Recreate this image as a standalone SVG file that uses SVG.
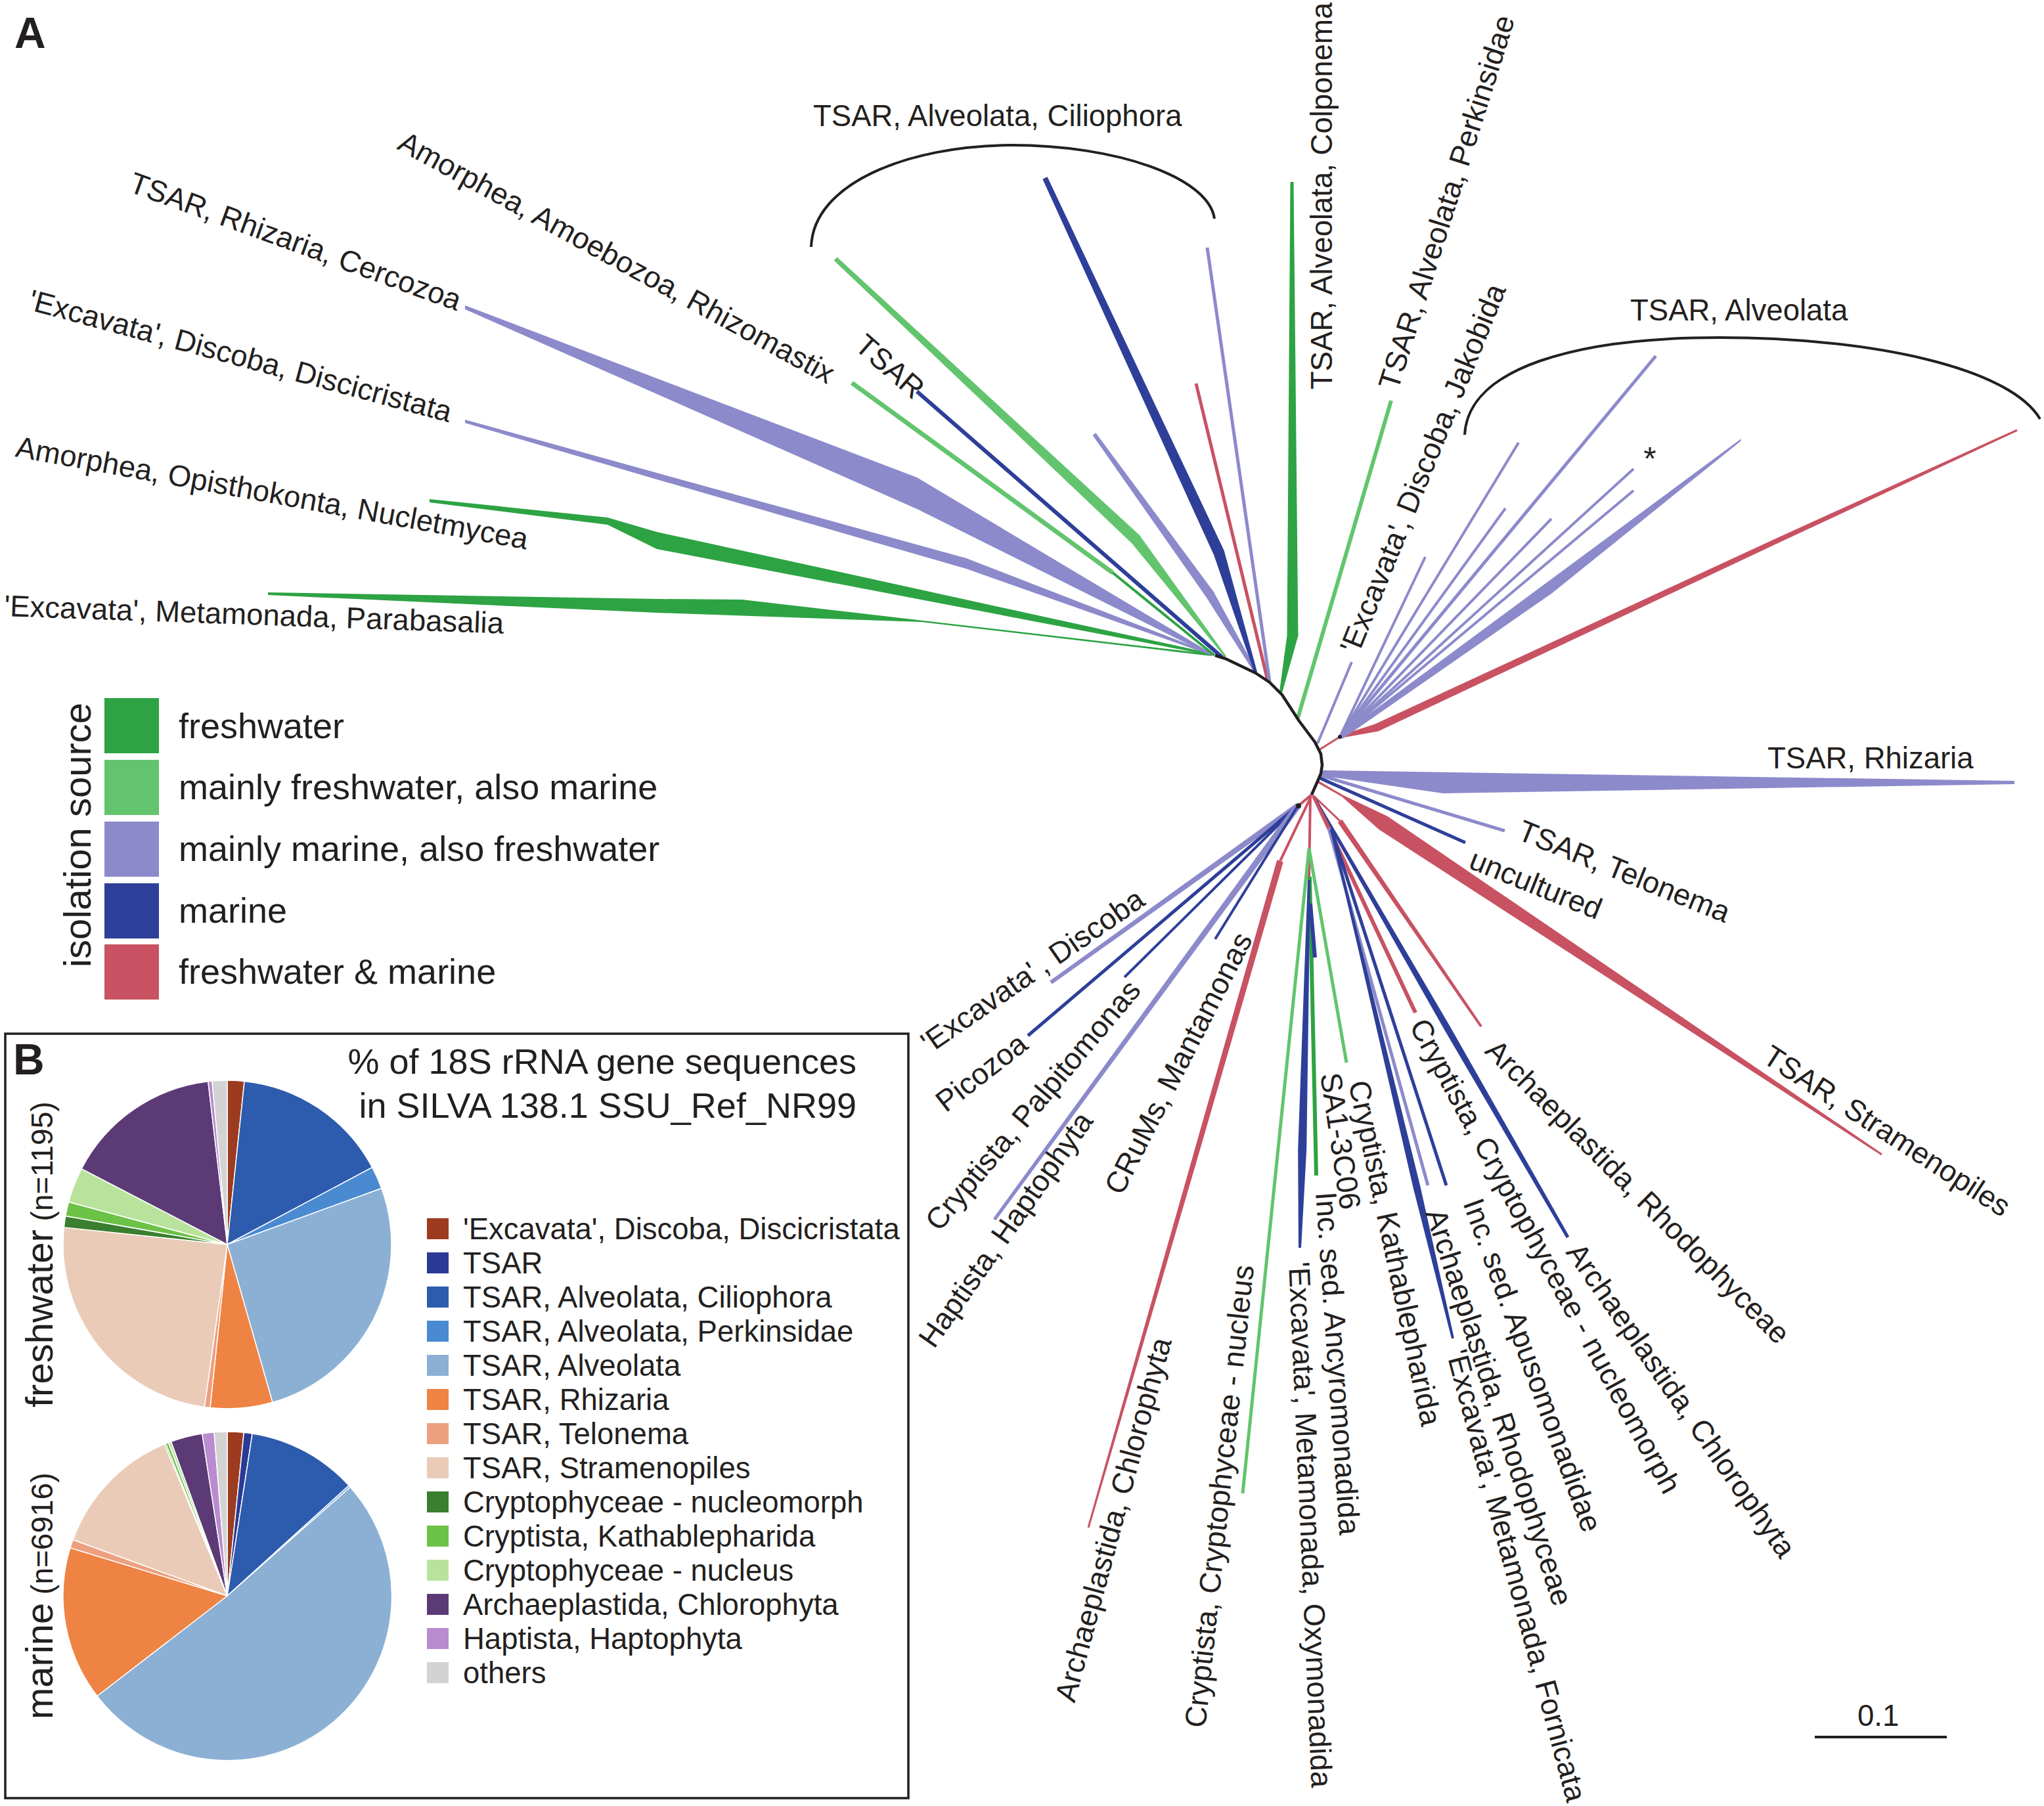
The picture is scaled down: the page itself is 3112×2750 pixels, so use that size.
<svg xmlns="http://www.w3.org/2000/svg" width="3112" height="2750" viewBox="0 0 3112 2750">
<style>
text{font-family:"Liberation Sans",Arial,sans-serif;fill:#231f20}
.t{font-size:45.5px}
.lg{font-size:54px}
.big{font-size:58px}
.sm{font-size:46px}
.hd{font-size:66px;font-weight:bold}
.fw{fill:#2da343}.mf{fill:#63c46e}.mm{fill:#8c8acb}.ma{fill:#2e3f99}.fm{fill:#c85262}
.s{fill:none;stroke-linecap:butt;stroke-linejoin:round}
.sfw{stroke:#2da343}.smf{stroke:#63c46e}.smm{stroke:#8c8acb}.sma{stroke:#2e3f99}.sfm{stroke:#c85262}.sk{stroke:#231f20}
.pie path{stroke:#fff;stroke-width:1.5}
</style>
<rect width="3112" height="2750" fill="#fff"/>

<g id="connectors">
  <!-- upper-left cluster -->
  <polygon class="fw" points="408,902 1000,912 1130,913 1845,996 1845,999 1402,947 1000,933 408,906"/>
  <polygon class="fw" points="654,760 925,788 1000,810 1845,995 1845,998 1000,836 925,799 654,765"/>
  <polygon class="mm" points="708,639 1000,720 1471,850 1845,995 1845,998 1471,866 1000,730 708,644"/>
  <polygon class="mm" points="708,465 1396,727 1845,995 1845,999 1396,775 1000,600 708,471"/>
  <line class="s smf" stroke-width="7" x1="1297" y1="583" x2="1694" y2="872"/>
  <line class="s sfw" stroke-width="4" x1="1694" y1="872" x2="1849" y2="998"/>
  <line class="s sma" stroke-width="6" x1="1396" y1="596" x2="1861" y2="1001"/>
  <polygon class="mf" points="1274.4,391.4 1734.8,814.8 1867,999 1865,1001 1723.2,827.2 1269.6,396.6"/>
  <polygon class="mm" points="1668.4,659.2 1847.7,900.9 1914,1023 1910,1025 1836.3,909.1 1663.6,662.8"/>
  <polygon class="ma" points="1594.6,269.3 1863.7,838.4 1914,1023 1910,1025 1848.3,845.6 1587.4,272.7"/>
  <line class="s sfm" stroke-width="5" x1="1821" y1="584" x2="1930" y2="1036"/>
  <line class="s smm" stroke-width="5" x1="1838" y1="377" x2="1933" y2="1038"/>
  <polygon class="fw" points="1964.5,277 1969.5,277 1976.5,968 1952,1055 1948,1053 1959.5,968"/>
  <line class="s smf" stroke-width="6" x1="2118" y1="610" x2="1976" y2="1093"/>
  <line class="s smm" stroke-width="4" x1="2058" y1="1008" x2="2006" y2="1132"/>
  <!-- alveolata cluster -->
  <line class="s sfm" stroke-width="3" x1="2008" y1="1142" x2="2040" y2="1122"/>
  <polygon class="fm" points="2040,1120 2093.5,1102.6 2698.3,822.4 3070.4,653.6 3071.6,656.4 2701.7,829.6 2098.5,1113.4 2040,1124"/>
  <g class="s smm" stroke-width="4">
    <line x1="2040" y1="1122" x2="2312" y2="674"/>
    <line x1="2040" y1="1122" x2="2521" y2="542" stroke-width="5"/>
    <line x1="2040" y1="1122" x2="2292" y2="774"/>
    <line x1="2040" y1="1122" x2="2170" y2="848"/>
    <line x1="2040" y1="1122" x2="2362" y2="790"/>
    <line x1="2040" y1="1122" x2="2487" y2="714"/>
    <line x1="2040" y1="1122" x2="2487" y2="747"/>
  </g>
  <polygon class="mm" points="2040,1120 2651,668 2650,672 2362,904 2044,1125"/>
  <circle cx="2040" cy="1122" r="3" fill="#231f20"/>
  <!-- right -->
  <polygon class="mm" points="2013,1173 3067,1189 3067,1194 2197,1208 2012,1181"/>
  <line class="s smm" stroke-width="5" x1="2012" y1="1181" x2="2291" y2="1265"/>
  <line class="s sma" stroke-width="5" x1="2010" y1="1185" x2="2231" y2="1283"/>
  <polygon class="fm" points="2006,1188 2044.8,1210.8 2112.6,1243 2669.2,1622.7 2865.8,1756.8 2864.2,1759.2 2664.8,1629.3 2099.4,1263 2043.2,1213.2 2006,1192"/>
  <!-- bottom-right cluster -->
  <line class="s sfm" stroke-width="3" x1="1999" y1="1211" x2="2040" y2="1250"/>
  <polygon class="fm" points="2043.3,1247.7 2256.6,1561.9 2253.4,1564.1 2036.7,1252.3"/>
  <line class="s sfm" stroke-width="6" x1="2001" y1="1214" x2="2155" y2="1542"/>
  <polygon class="ma" points="2004.7,1217 2207.1,1562 2389.2,1882.8 2384.8,1885.2 2198.5,1567 2001.3,1219"/>
  <line class="s sfm" stroke-width="4" x1="1999" y1="1212" x2="2025" y2="1262"/>
  <line class="s smm" stroke-width="5" x1="2023" y1="1261" x2="2174" y2="1805"/>
  <line class="s sma" stroke-width="5" x1="2027" y1="1263" x2="2202" y2="1805"/>
  <polygon class="ma" points="2028.9,1262.5 2071.2,1437.4 2162.4,1806.4 2213.9,2037.5 2210.1,2038.5 2151.7,1809 2066.4,1438.6 2025.1,1263.5"/>
  <!-- bottom-middle -->
  <line class="s sfm" stroke-width="4" x1="1995" y1="1212" x2="1993" y2="1340"/>
  <line class="s smf" stroke-width="5" x1="1993" y1="1292" x2="1892" y2="2274"/>
  <line class="s smf" stroke-width="5" x1="1993" y1="1292" x2="2050" y2="1618"/>
  <line class="s sfw" stroke-width="6" x1="1994" y1="1335" x2="2004" y2="1790"/>
  <line class="s sma" stroke-width="6" x1="1995" y1="1376" x2="2002" y2="1458"/>
  <polygon class="ma" points="1991,1340 1995,1340 1989.2,1750 1981,1900 1977,1900 1976.2,1750"/>
  <line class="s sfm" stroke-width="4" x1="1996" y1="1213" x2="1949" y2="1311"/>
  <polygon class="fm" points="1953.8,1312.4 1829.8,1741.1 1658.4,2326.4 1655.6,2325.6 1822.2,1738.9 1944.2,1309.6"/>
  <!-- bottom-left cluster -->
  <line class="s sfm" stroke-width="4" x1="1997" y1="1210" x2="1978" y2="1226"/>
  <polygon class="mm" points="1973.4,1223.3 1978.6,1230.7 1601.7,1498.4 1598.3,1493.6"/>
  <line class="s sma" stroke-width="5" x1="1976" y1="1227" x2="1565" y2="1577"/>
  <line class="s sma" stroke-width="4" x1="1976" y1="1227" x2="1712" y2="1488"/>
  <polygon class="mm" points="1972,1224 1980,1230 1516,1858.5 1512,1855.5"/>
  <line class="s sma" stroke-width="4" x1="1976" y1="1227" x2="1850" y2="1430"/>
  <circle cx="1977" cy="1227" r="4" fill="#231f20"/>
  <!-- backbone -->
  <polyline class="s sk" stroke-width="4.5" points="1850,998 1866,1003 1912,1025 1933,1039 1952,1058 1978,1098 2002,1130 2011,1148 2013,1165 2011,1178 2005,1192 1997,1210"/>
  <!-- brackets -->
  <path class="s sk" stroke-width="4" d="M1235,376 C1238,280 1380,222 1540,221 C1700,221 1840,270 1849,333"/>
  <path class="s sk" stroke-width="4" d="M2230,662 C2235,560 2400,514 2617,514 C2850,514 3060,560 3106,638"/>
  <!-- scale bar -->
  <line class="s sk" stroke-width="4" x1="2763" y1="2645" x2="2964" y2="2645"/>
</g>

<g id="panel-a-label"><text class="hd" x="22" y="73">A</text></g>
<g id="n-ciliophora"><text class="t" x="1238" y="192">TSAR, Alveolata, Ciliophora</text></g>
<g id="n-alveolata"><text class="t" x="2482" y="488">TSAR, Alveolata</text></g>
<g id="n-rhizaria"><text class="t" x="2691" y="1170">TSAR, Rhizaria</text></g>
<g id="n-star"><text x="2512" y="716" font-size="50" text-anchor="middle">*</text></g>
<g id="n-amoebozoa"><text class="t" transform="translate(603,226) rotate(28.7)">Amorphea, Amoebozoa, Rhizomastix</text></g>
<g id="n-cercozoa"><text class="t" transform="translate(194,291) rotate(20)">TSAR, Rhizaria, Cercozoa</text></g>
<g id="n-discicristata"><text class="t" transform="translate(41,471) rotate(15)">'Excavata', Discoba, Discicristata</text></g>
<g id="n-nucletmycea"><text class="t" transform="translate(22,695) rotate(10.3)">Amorphea, Opisthokonta, Nucletmycea</text></g>
<g id="n-parabasalia"><text class="t" transform="translate(6,938) rotate(2)">'Excavata', Metamonada, Parabasalia</text></g>
<g id="n-tsar"><text class="t" transform="translate(1299,530) rotate(41)">TSAR</text></g>
<g id="n-colponema"><text class="t" transform="translate(2028,593) rotate(-90)">TSAR, Alveolata, Colponema</text></g>
<g id="n-perkinsidae"><text class="t" transform="translate(2128,596) rotate(-72.5)">TSAR, Alveolata, Perkinsidae</text></g>
<g id="n-jakobida"><text class="t" transform="translate(2068,998) rotate(-68)">'Excavata', Discoba, Jakobida</text></g>
<g id="n-discoba"><text class="t" transform="translate(1416,1605) rotate(-34.7)">'Excavata'<tspan dx="7">,</tspan> Discoba</text></g>
<g id="n-picozoa"><text class="t" transform="translate(1440,1695) rotate(-38)">Picozoa</text></g>
<g id="n-palpitomonas"><text class="t" transform="translate(1430,1877) rotate(-50)">Cryptista, Palpitomonas</text></g>
<g id="n-haptophyta"><text class="t" transform="translate(1422,2055) rotate(-55)">Haptista, Haptophyta</text></g>
<g id="n-crums"><text class="t" transform="translate(1708,1822) rotate(-63)">CRuMs, Mantamonas</text></g>
<g id="n-chlorophyta-1"><text class="t" transform="translate(1636,2594) rotate(-75)">Archaeplastida, Chlorophyta</text></g>
<g id="n-nucleus"><text class="t" transform="translate(1835,2632) rotate(-84)">Cryptista, Cryptophyceae - nucleus</text></g>
<g id="n-oxymonadida"><text class="t" transform="translate(1962,1922) rotate(87.5)">'Excavata', Metamonada, Oxymonadida</text></g>
<g id="n-ancyromonadida"><text class="t" transform="translate(2003,1816) rotate(86)">Inc. sed. Ancyromonadida</text></g>
<g id="n-sa1"><text class="t" transform="translate(2010,1636) rotate(81.5)">SA1-3C06</text></g>
<g id="n-katha"><text class="t" transform="translate(2053,1649) rotate(78)">Cryptista, Kathablepharida</text></g>
<g id="n-rhodo-2"><text class="t" transform="translate(2170,1847) rotate(72)">Archaeplastida, Rhodophyceae</text></g>
<g id="n-fornicata"><text class="t" transform="translate(2202,2060) rotate(75)">'Excavata', Metamonada, Fornicata</text></g>
<g id="n-apusomonadidae"><text class="t" transform="translate(2227,1832) rotate(70)">Inc. sed. Apusomonadidae</text></g>
<g id="n-nucleomorph"><text class="t" transform="translate(2145,1562) rotate(61.5)">Cryptista, Cryptophyceae - nucleomorph</text></g>
<g id="n-chlorophyta-2"><text class="t" transform="translate(2383,1907) rotate(55)">Archaeplastida, Chlorophyta</text></g>
<g id="n-rhodo-1"><text class="t" transform="translate(2259,1602) rotate(45)">Archaeplastida, Rhodophyceae</text></g>
<g id="n-stramenopiles"><text class="t" transform="translate(2681,1616) rotate(33)">TSAR, Stramenopiles</text></g>
<g id="n-uncultured"><text class="t" transform="translate(2234,1321) rotate(22)">uncultured</text></g>
<g id="n-telonema"><text class="t" transform="translate(2308,1277) rotate(22)">TSAR, Telonema</text></g>
<g id="n-scale"><text class="t" x="2828" y="2628">0.1</text></g>

<g id="legend-a">
  <text class="big" transform="translate(138,1473) rotate(-90)">isolation source</text>
  <rect class="fw" x="159" y="1063" width="83" height="84"/>
  <rect class="mf" x="159" y="1157" width="83" height="84"/>
  <rect class="mm" x="159" y="1251" width="83" height="84"/>
  <rect class="ma" x="159" y="1345" width="83" height="84"/>
  <rect class="fm" x="159" y="1438" width="83" height="84"/>
  <text class="lg" x="272" y="1124">freshwater</text>
  <text class="lg" x="272" y="1217">mainly freshwater, also marine</text>
  <text class="lg" x="272" y="1311">mainly marine, also freshwater</text>
  <text class="lg" x="272" y="1405">marine</text>
  <text class="lg" x="272" y="1498">freshwater &amp; marine</text>
</g>

<g id="panel-b">
  <rect x="8" y="1574" width="1375" height="1164" fill="none" stroke="#231f20" stroke-width="3.5"/>
  <text class="hd" x="20" y="1636">B</text>
  <text class="lg" x="1304" y="1635" text-anchor="end">% of 18S rRNA gene sequences</text>
  <text class="lg" x="1304" y="1702" text-anchor="end">in SILVA 138.1 SSU_Ref_NR99</text>
  <text class="big" transform="translate(80,2143) rotate(-90)">freshwater<tspan class="sm"> (n=1195)</tspan></text>
  <text class="big" transform="translate(80,2618) rotate(-90)">marine<tspan class="sm"> (n=6916)</tspan></text>
  <g class="pie" id="pie-freshwater">
    <path fill="#9c3b1f" d="M346,1895 L346,1645 A250,250 0 0 1 372.1,1646.4 Z"/>
    <path fill="#2d5bad" d="M346,1895 L372.1,1646.4 A250,250 0 0 1 566.7,1777.6 Z"/>
    <path fill="#4a8ad1" d="M346,1895 L566.7,1777.6 A250,250 0 0 1 580.9,1809.5 Z"/>
    <path fill="#8bb0d4" d="M346,1895 L580.9,1809.5 A250,250 0 0 1 414.9,2135.3 Z"/>
    <path fill="#ee8343" d="M346,1895 L414.9,2135.3 A250,250 0 0 1 319.9,2143.6 Z"/>
    <path fill="#eda07f" d="M346,1895 L319.9,2143.6 A250,250 0 0 1 311.2,2142.6 Z"/>
    <path fill="#e9cbb7" d="M346,1895 L311.2,2142.6 A250,250 0 0 1 97.4,1868.9 Z"/>
    <path fill="#3a7e2f" d="M346,1895 L97.4,1868.9 A250,250 0 0 1 99.8,1851.6 Z"/>
    <path fill="#6cc247" d="M346,1895 L99.8,1851.6 A250,250 0 0 1 104.5,1830.3 Z"/>
    <path fill="#b9e39c" d="M346,1895 L104.5,1830.3 A250,250 0 0 1 124.2,1779.6 Z"/>
    <path fill="#5b3a76" d="M346,1895 L124.2,1779.6 A250,250 0 0 1 316.8,1646.7 Z"/>
    <path fill="#b98bcf" d="M346,1895 L316.8,1646.7 A250,250 0 0 1 322.9,1646.1 Z"/>
    <path fill="#d3d3d3" d="M346,1895 L322.9,1646.1 A250,250 0 0 1 346,1645 Z"/>
  </g>
  <g class="pie" id="pie-marine">
    <path fill="#9c3b1f" d="M346,2430 L346,2180 A250,250 0 0 1 371.3,2181.3 Z"/>
    <path fill="#2b3a96" d="M346,2430 L371.3,2181.3 A250,250 0 0 1 384.2,2182.9 Z"/>
    <path fill="#2d5bad" d="M346,2430 L384.2,2182.9 A250,250 0 0 1 531.2,2262.1 Z"/>
    <path fill="#4a8ad1" d="M346,2430 L531.2,2262.1 A250,250 0 0 1 533.2,2264.4 Z"/>
    <path fill="#8bb0d4" d="M346,2430 L533.2,2264.4 A250,250 0 1 1 147.9,2582.5 Z"/>
    <path fill="#ee8343" d="M346,2430 L147.9,2582.5 A250,250 0 0 1 106.9,2356.9 Z"/>
    <path fill="#eda07f" d="M346,2430 L106.9,2356.9 A250,250 0 0 1 111.1,2344.5 Z"/>
    <path fill="#e9cbb7" d="M346,2430 L111.1,2344.5 A250,250 0 0 1 250.3,2199 Z"/>
    <path fill="#3a7e2f" d="M346,2430 L250.3,2199 A250,250 0 0 1 252.3,2198.2 Z"/>
    <path fill="#6cc247" d="M346,2430 L252.3,2198.2 A250,250 0 0 1 256.4,2196.6 Z"/>
    <path fill="#b9e39c" d="M346,2430 L256.4,2196.6 A250,250 0 0 1 260.5,2195.1 Z"/>
    <path fill="#5b3a76" d="M346,2430 L260.5,2195.1 A250,250 0 0 1 307.8,2182.9 Z"/>
    <path fill="#b98bcf" d="M346,2430 L307.8,2182.9 A250,250 0 0 1 326,2180.8 Z"/>
    <path fill="#d3d3d3" d="M346,2430 L326,2180.8 A250,250 0 0 1 346,2180 Z"/>
  </g>
  <g id="legend-b">
    <rect x="650" y="1855" width="33" height="32" fill="#9c3b1f"/>
    <rect x="650" y="1907" width="33" height="32" fill="#2b3a96"/>
    <rect x="650" y="1959" width="33" height="32" fill="#2d5bad"/>
    <rect x="650" y="2011" width="33" height="32" fill="#4a8ad1"/>
    <rect x="650" y="2063" width="33" height="32" fill="#8bb0d4"/>
    <rect x="650" y="2115" width="33" height="32" fill="#ee8343"/>
    <rect x="650" y="2167" width="33" height="32" fill="#eda07f"/>
    <rect x="650" y="2219" width="33" height="32" fill="#e9cbb7"/>
    <rect x="650" y="2271" width="33" height="32" fill="#3a7e2f"/>
    <rect x="650" y="2323" width="33" height="32" fill="#6cc247"/>
    <rect x="650" y="2375" width="33" height="32" fill="#b9e39c"/>
    <rect x="650" y="2427" width="33" height="32" fill="#5b3a76"/>
    <rect x="650" y="2479" width="33" height="32" fill="#b98bcf"/>
    <rect x="650" y="2531" width="33" height="32" fill="#d3d3d3"/>
    <text class="t" x="705" y="1887">'Excavata', Discoba, Discicristata</text>
    <text class="t" x="705" y="1939">TSAR</text>
    <text class="t" x="705" y="1991">TSAR, Alveolata, Ciliophora</text>
    <text class="t" x="705" y="2043">TSAR, Alveolata, Perkinsidae</text>
    <text class="t" x="705" y="2095">TSAR, Alveolata</text>
    <text class="t" x="705" y="2147">TSAR, Rhizaria</text>
    <text class="t" x="705" y="2199">TSAR, Telonema</text>
    <text class="t" x="705" y="2251">TSAR, Stramenopiles</text>
    <text class="t" x="705" y="2303">Cryptophyceae - nucleomorph</text>
    <text class="t" x="705" y="2355">Cryptista, Kathablepharida</text>
    <text class="t" x="705" y="2407">Cryptophyceae - nucleus</text>
    <text class="t" x="705" y="2459">Archaeplastida, Chlorophyta</text>
    <text class="t" x="705" y="2511">Haptista, Haptophyta</text>
    <text class="t" x="705" y="2563">others</text>
  </g>
</g>
</svg>
